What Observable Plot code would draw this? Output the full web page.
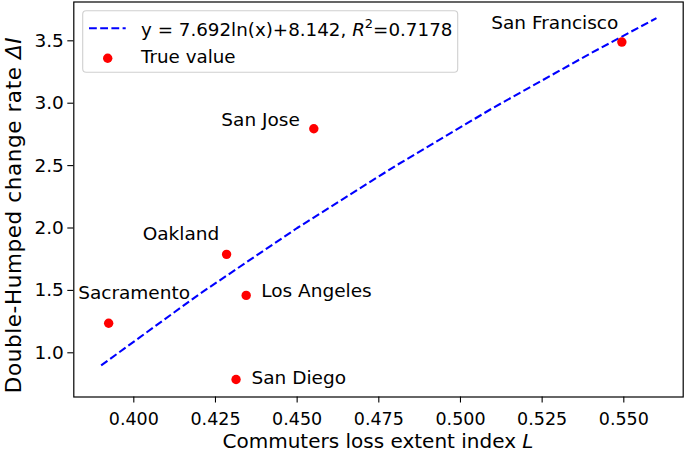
<!DOCTYPE html>
<html><head><meta charset="utf-8">
<script src="https://cdn.jsdelivr.net/npm/d3@7"></script>
<script src="https://cdn.jsdelivr.net/npm/@observablehq/plot@0.6"></script>
<style>body{margin:0;background:#fff} svg{display:block}</style>
</head><body><div id="chart"></div>
<script>
// ---- data ----
const cities = ["San Francisco", "San Jose", "Oakland", "Los Angeles", "Sacramento", "San Diego"];
const lossIndex = [0.5494, 0.4551, 0.4284, 0.4344, 0.3923, 0.4313];
const changeRate = [3.49, 2.795, 1.789, 1.46, 1.237, 0.786];
const fitX = [0.39, 0.42, 0.45, 0.48, 0.51, 0.54, 0.56];
const fitY = [0.899, 1.469, 2.000, 2.496, 2.963, 3.402, 3.682];
const xTicks = [0.400, 0.425, 0.450, 0.475, 0.500, 0.525, 0.550];
const yTicks = [1.0, 1.5, 2.0, 2.5, 3.0, 3.5];
const fitLabel = "y = 7.692ln(x)+8.142, ";
const fitR2 = "=0.7178";
const pointLabel = "True value";

// ---- presentation ----
const W = 685, H = 451;
const FONT = "DejaVu Sans, Liberation Sans, sans-serif";
const points = cities.map((c, i) => ({city: c, x: lossIndex[i], y: changeRate[i]}));
const fit = fitX.map((x, i) => ({x, y: fitY[i]}));
const place = {
  "San Francisco": {anchor: "end", dx: -3.5, dy: -19.3},
  "San Jose": {anchor: "end", dx: -14, dy: -9.2},
  "Oakland": {anchor: "end", dx: -7.3, dy: -19.9},
  "Los Angeles": {anchor: "start", dx: 15, dy: -4.2},
  "Sacramento": {anchor: "start", dx: -30.5, dy: -30.3},
  "San Diego": {anchor: "start", dx: 15.4, dy: -1.6}
};

const labelMarks = cities.map(c => Plot.text(points.filter(d => d.city === c), {
  x: "x", y: "y", text: "city", textAnchor: place[c].anchor,
  dx: place[c].dx, dy: place[c].dy, fontSize: 18.5, fill: "#000"
}));

const mL = 73.3, mR = 2.3, mT = 1.5, mB = 54.5;

const chart = Plot.plot({
  width: W, height: H,
  marginLeft: mL, marginRight: mR, marginTop: mT, marginBottom: mB,
  style: {fontFamily: FONT, background: "#fff", color: "#000"},
  x: {domain: [0.38163, 0.56818]},
  y: {domain: [0.6458, 3.811]},
  marks: [
    Plot.line(fit, {x: "x", y: "y", stroke: "#0000ff", strokeWidth: 2.1, strokeDasharray: "7.8,3.4", strokeLinecap: "butt"}),
    Plot.dot(points, {x: "x", y: "y", r: 4.7, fill: "#ff0000", stroke: "none"}),
    ...labelMarks,
    Plot.axisX({ticks: xTicks, tickFormat: d3.format(".3f"), tickSize: 6, tickPadding: 9.5, fontSize: 17.5, label: null, stroke: "#000", strokeWidth: 1.1}),
    Plot.axisY({ticks: yTicks, tickFormat: d3.format(".1f"), tickSize: 6, tickPadding: 4, fontSize: 18.5, label: null, stroke: "#000", strokeWidth: 1.1}),
    Plot.frame({stroke: "#000", strokeWidth: 1.2})
  ]
});
document.getElementById("chart").appendChild(chart);

const svg = d3.select(chart);
// axis titles with italic symbols
const xl = svg.append("text").attr("x", (mL + W - mR) / 2).attr("y", 447.5)
  .attr("text-anchor", "middle").attr("font-size", 20).attr("font-family", FONT).attr("fill", "#000");
xl.append("tspan").text("Commuters loss extent index ");
xl.append("tspan").attr("font-style", "italic").text("L");

const yl = svg.append("text")
  .attr("transform", `translate(20.5,215) rotate(-90)`)
  .attr("text-anchor", "middle").attr("font-size", 21.5).attr("letter-spacing", 0.6)
  .attr("font-family", FONT).attr("fill", "#000");
yl.append("tspan").text("Double-Humped change rate ");
yl.append("tspan").attr("font-style", "italic").text("ΔI");

// legend
const lg = svg.append("g").attr("font-family", FONT).attr("font-size", 18.3).attr("text-anchor", "start");
lg.append("rect").attr("x", 82.7).attr("y", 10.7).attr("width", 375).attr("height", 61.6)
  .attr("rx", 3.5).attr("fill", "#fff").attr("fill-opacity", 0.8).attr("stroke", "#d0d0d0").attr("stroke-width", 1.1);
lg.append("line").attr("x1", 89).attr("x2", 125.7).attr("y1", 28.3).attr("y2", 28.3)
  .attr("stroke", "#0000ff").attr("stroke-width", 2.1).attr("stroke-dasharray", "7.8,3.4");
lg.append("circle").attr("cx", 107.7).attr("cy", 58.3).attr("r", 4.7).attr("fill", "#ff0000");
const t1 = lg.append("text").attr("x", 141).attr("y", 35.5).attr("fill", "#000");
t1.append("tspan").text(fitLabel);
t1.append("tspan").attr("font-style", "italic").text("R");
t1.append("tspan").attr("font-size", 13).attr("dy", -7.5).text("2");
t1.append("tspan").attr("dy", 7.5).text(fitR2);
lg.append("text").attr("x", 141).attr("y", 63.3).attr("fill", "#000").text(pointLabel);
</script>
</body></html>
